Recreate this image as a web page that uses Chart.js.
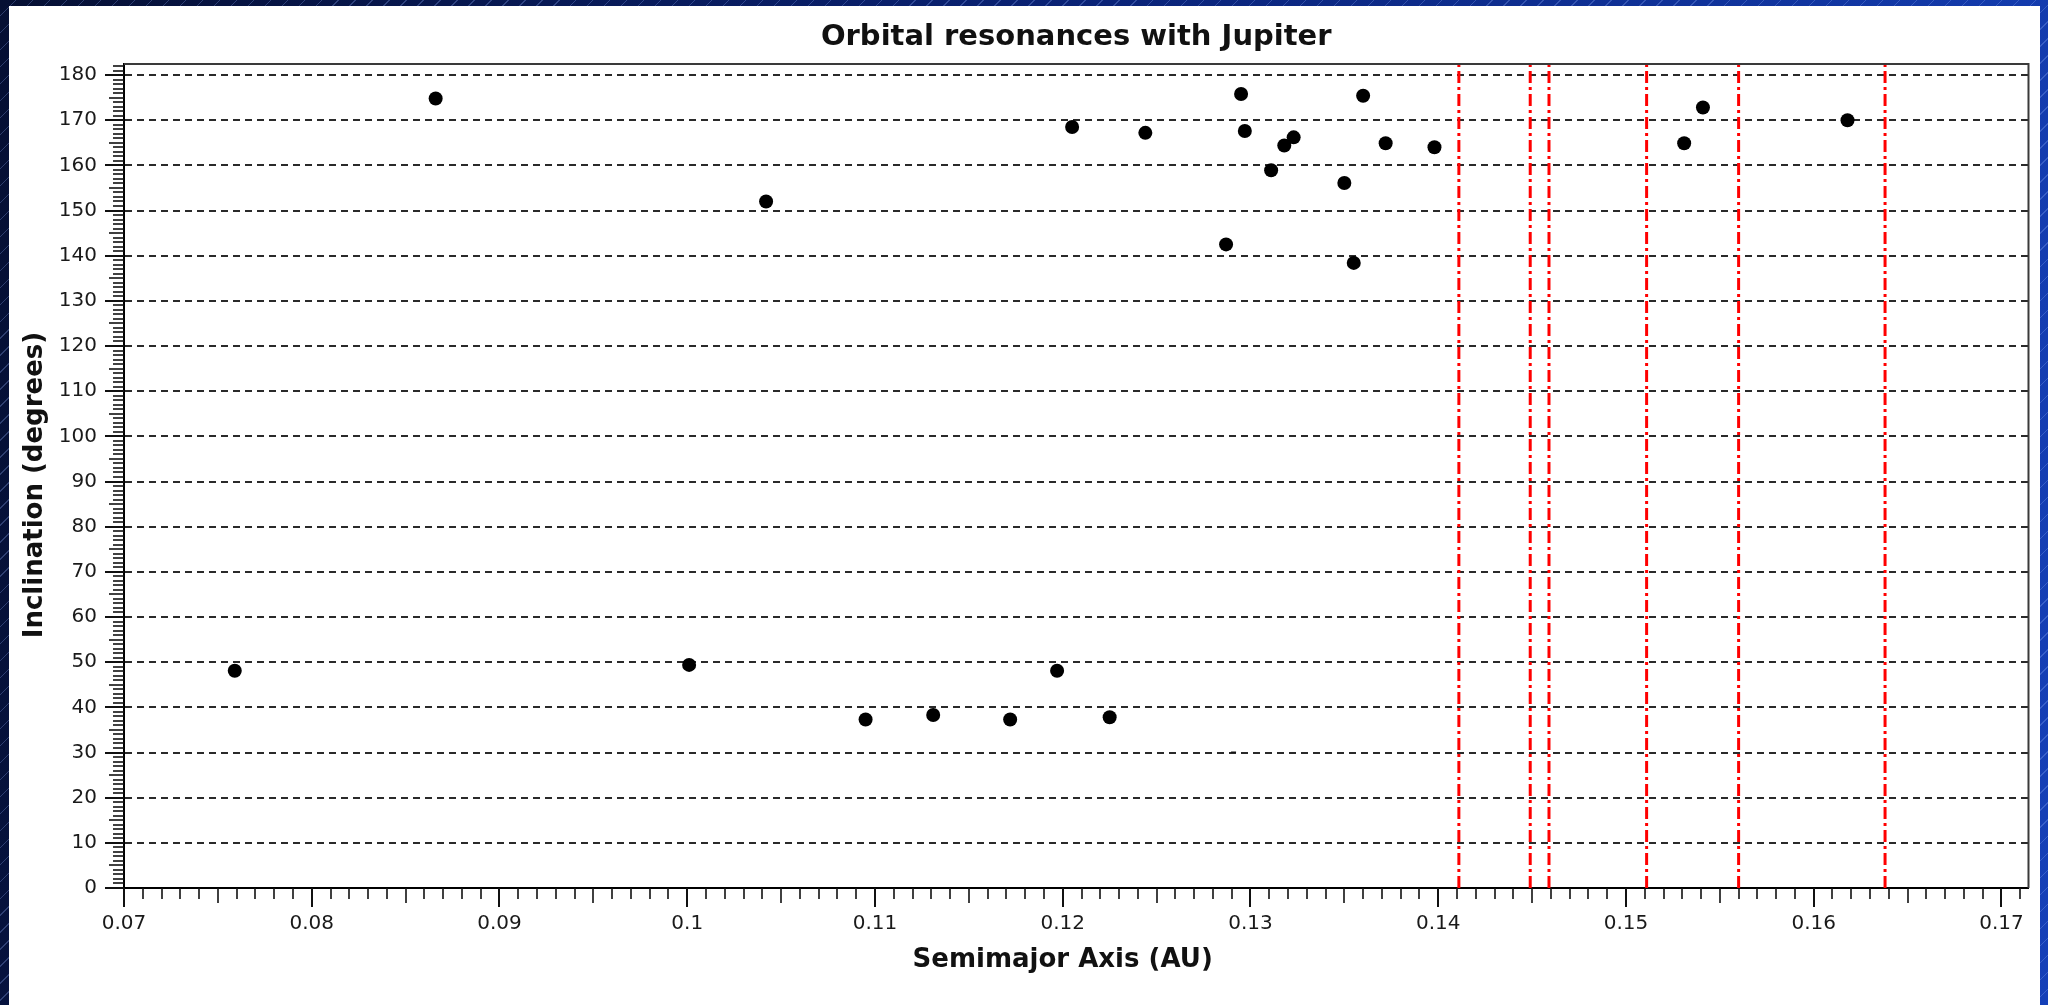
<!DOCTYPE html>
<html><head><meta charset="utf-8">
<script src="https://cdn.jsdelivr.net/npm/chart.js@4.4.0/dist/chart.umd.min.js"></script>
<style>
html,body{margin:0;padding:0;width:2048px;height:1005px;overflow:hidden;}
body{background:
 repeating-linear-gradient(135deg, rgba(255,255,255,0) 0px, rgba(255,255,255,0) 11px, rgba(150,180,255,0.28) 11px, rgba(150,180,255,0.28) 12px),
 linear-gradient(100deg,#050f33 0%, #0a2378 50%, #1540b8 100%);}
#panel{position:absolute;left:9px;top:6px;width:2031px;height:999px;background:#fff;}
#c{position:absolute;left:0;top:0;}
</style></head>
<body><div id="panel"></div><canvas id="c" width="2048" height="1005"></canvas>
<script>
// ---- data ----
const semimajorAxis = [0.0759, 0.0866, 0.1001, 0.1042, 0.1095, 0.1131, 0.1172, 0.1197, 0.1205, 0.1225,
                       0.1244, 0.1287, 0.1295, 0.1297, 0.1311, 0.1318, 0.1323, 0.1350, 0.1355, 0.1360,
                       0.1372, 0.1398, 0.1531, 0.1541, 0.1618];
const inclination   = [48.1, 174.8, 49.4, 152.0, 37.3, 38.3, 37.3, 48.1, 168.5, 37.8,
                       167.2, 142.5, 175.8, 167.6, 158.9, 164.4, 166.2, 156.1, 138.4, 175.4,
                       164.9, 164.0, 164.9, 172.8, 170.0];
const tinyMarkX = [0.1291];
const tinyMarkY = [30.1];
const resonances = [0.1411, 0.1449, 0.1459, 0.1511, 0.1560, 0.1638];
const xTickValues = [0.07, 0.08, 0.09, 0.10, 0.11, 0.12, 0.13, 0.14, 0.15, 0.16, 0.17];
const xTickLabels = ['0.07','0.08','0.09','0.1','0.11','0.12','0.13','0.14','0.15','0.16','0.17'];
const yTickValues = [0,10,20,30,40,50,60,70,80,90,100,110,120,130,140,150,160,170,180];
const yTickLabels = ['0','10','20','30','40','50','60','70','80','90','100','110','120','130','140','150','160','170','180'];
const xMin = 0.07, xMax = 0.17144, yMin = 0, yMax = 182.44;

const FONT = "'DejaVu Sans', 'Liberation Sans', sans-serif";
Chart.defaults.font.family = FONT;

const datasets = [{
  label: 'Moons',
  data: semimajorAxis.map((x, i) => ({x: x, y: inclination[i]})),
  showLine: false, pointRadius: 7, pointHoverRadius: 7,
  backgroundColor: '#000', borderWidth: 0
}, {
  label: 'Tiny',
  data: tinyMarkX.map((x, i) => ({x: x, y: tinyMarkY[i]})),
  showLine: false, pointStyle: 'line', pointRadius: 2.5, pointHoverRadius: 2.5,
  borderColor: '#000', borderWidth: 1
}];
resonances.forEach(v => datasets.push({
  label: 'Resonance ' + v,
  data: [{x: v, y: yMin}, {x: v, y: yMax}],
  showLine: true, pointRadius: 0, pointHoverRadius: 0,
  borderColor: '#ff0000', borderWidth: 3, borderDash: [12, 4, 3, 4], fill: false
}));

const extras = {
  id: 'extras',
  afterDraw(chart) {
    const {ctx, chartArea: a, scales: {x, y}} = chart;
    ctx.save();
    ctx.strokeStyle = '#3a3a3a'; ctx.lineWidth = 2;
    ctx.beginPath();
    ctx.moveTo(a.left, a.top); ctx.lineTo(a.right, a.top); ctx.lineTo(a.right, a.bottom);
    ctx.stroke();
    ctx.strokeStyle = '#111';
    for (let i = 0; i <= 182; i++) {
      const v = i; if (v > yMax) break;
      const py = Math.round(y.getPixelForValue(v));
      const len = (i % 10 === 0) ? 19 : (i % 5 === 0 ? 15 : 11);
      ctx.lineWidth = (i % 10 === 0) ? 2 : 1.6;
      ctx.beginPath(); ctx.moveTo(a.left - len, py); ctx.lineTo(a.left, py); ctx.stroke();
    }
    for (let i = 70; i <= 172; i++) {
      const v = i / 1000; if (v > xMax) break;
      const px = Math.round(x.getPixelForValue(v));
      const len = (i % 10 === 0) ? 19 : (i % 5 === 0 ? 15 : 11);
      ctx.lineWidth = (i % 10 === 0) ? 2 : 1.6;
      ctx.beginPath(); ctx.moveTo(px, a.bottom); ctx.lineTo(px, a.bottom + len); ctx.stroke();
    }
    ctx.restore();
  }
};

new Chart(document.getElementById('c'), {
  type: 'scatter',
  data: {datasets},
  options: {
    responsive: false, animation: false,
    layout: {padding: {left: 0, right: 19, top: 0, bottom: 0}},
    plugins: {
      legend: {display: false},
      tooltip: {enabled: false},
      title: {
        display: true, text: 'Orbital resonances with Jupiter', color: '#111',
        fullSize: false,
        font: {family: FONT, size: 29, weight: 'bold', lineHeight: 1.2},
        padding: {top: 20, bottom: 9.2}
      }
    },
    scales: {
      x: {
        type: 'linear', min: xMin, max: xMax,
        afterBuildTicks: s => { s.ticks = xTickValues.map(v => ({value: v})); },
        afterFit: s => { s.height = 117; },
        ticks: {autoSkip: false, maxRotation: 0, padding: 24, color: '#1a1a1a',
                font: {family: FONT, size: 20},
                callback: (v, i) => xTickLabels[i]},
        grid: {display: false, drawTicks: false},
        border: {display: true, color: '#000', width: 2},
        title: {display: true, text: 'Semimajor Axis (AU)   ', color: '#111',
                font: {family: FONT, size: 26, weight: 'bold', lineHeight: 1.2},
                padding: {top: 0, bottom: 29.5}}
      },
      y: {
        type: 'linear', min: yMin, max: yMax,
        afterBuildTicks: s => { s.ticks = yTickValues.map(v => ({value: v})); },
        afterFit: s => { s.width = 124; },
        ticks: {autoSkip: false, padding: 27, color: '#1a1a1a',
                font: {family: FONT, size: 20},
                callback: (v, i) => yTickLabels[i]},
        grid: {display: true, drawTicks: false, lineWidth: 2,
               color: c => (c.tick && c.tick.value === 0) ? 'rgba(0,0,0,0)' : '#2a2a2a'},
        border: {display: true, color: '#000', width: 2, dash: [7, 5]},
        title: {display: true, text: 'Inclination (degrees)  ', color: '#111',
                font: {family: FONT, size: 26, weight: 'bold', lineHeight: 1.2},
                padding: {top: 19.5, bottom: 0}}
      }
    }
  },
  plugins: [extras]
});
</script>
</body></html>
